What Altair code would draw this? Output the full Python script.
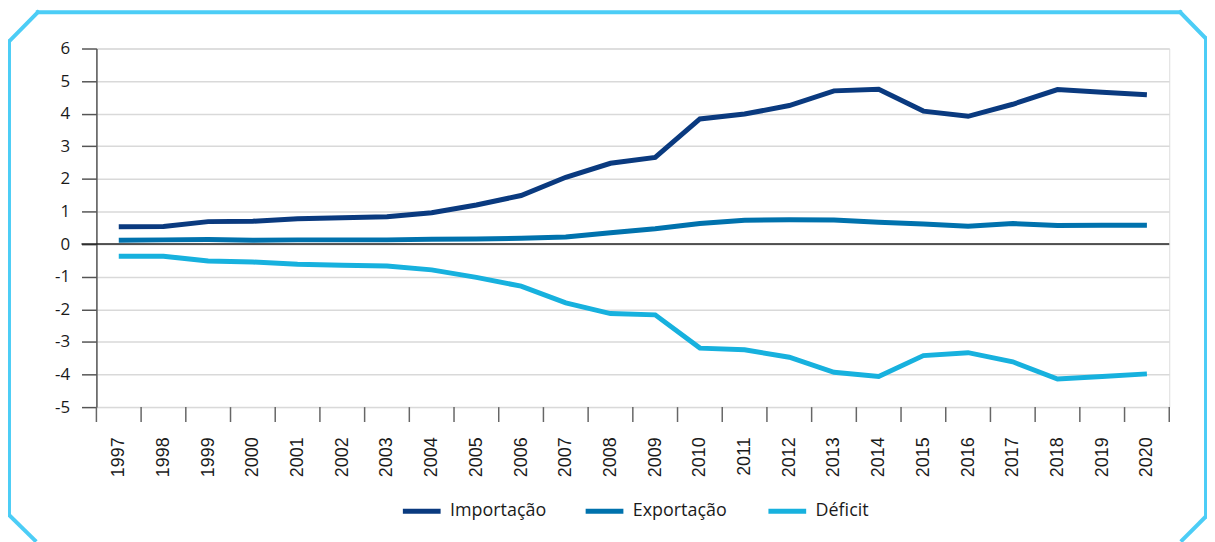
import altair as alt
import pandas as pd

years = list(range(1997, 2021))
importacao = [0.53, 0.54, 0.69, 0.70, 0.78, 0.81, 0.84, 0.96, 1.20, 1.49, 2.05, 2.48, 2.66,
              3.84, 3.99, 4.25, 4.70, 4.75, 4.08, 3.92, 4.29, 4.74, 4.66, 4.58]
exportacao = [0.12, 0.13, 0.14, 0.12, 0.13, 0.13, 0.13, 0.15, 0.16, 0.18, 0.22, 0.35, 0.47,
              0.63, 0.73, 0.75, 0.74, 0.67, 0.62, 0.55, 0.63, 0.57, 0.58, 0.58]
deficit = [-0.37, -0.37, -0.52, -0.55, -0.62, -0.65, -0.67, -0.79, -1.02, -1.29, -1.80, -2.13, -2.17,
           -3.19, -3.24, -3.47, -3.93, -4.06, -3.42, -3.33, -3.61, -4.14, -4.06, -3.98]
series_names = ["Importação", "Exportação", "Déficit"]
series_colors = ["#0a3a7f", "#0072ad", "#17b1de"]
y_ticks = list(range(-5, 7))

rows = []
for name, vals in zip(series_names, [importacao, exportacao, deficit]):
    for yr, v in zip(years, vals):
        rows.append({"ano": yr, "valor": v, "serie": name})
df = pd.DataFrame(rows)

tick_df = pd.DataFrame({"pos": [y - 0.5 for y in years] + [years[-1] + 0.5]})
zero_df = pd.DataFrame({"v": [0]})

W, H = 1080, 361
xscale = alt.Scale(domain=[years[0] - 0.5, years[-1] + 0.5], nice=False, zero=False)
yscale = alt.Scale(domain=[-5, 6], nice=False, zero=False)

x_axis = alt.Axis(values=years, format="d", labelAngle=-90, tickSize=0, grid=False,
                  domain=False, labelPadding=30, labelFont="Liberation Sans",
                  labelFontSize=18, labelColor="#1a1a1a", labelOverlap=False, title=None)
y_axis = alt.Axis(values=y_ticks, tickSize=15, tickColor="#555555", tickWidth=1.5,
                  domain=True, domainColor="#555555", domainWidth=1.5,
                  grid=True, gridColor="#d9d9d9", gridWidth=1.5,
                  labelPadding=12, labelFont="Open Sans", labelFontSize=17,
                  labelColor="#1a1a1a", labelOverlap=False,
                  labelExpr="replace(datum.label, '\u2212', '-')", title=None)

lines = alt.Chart(df).mark_line(strokeWidth=5, strokeJoin="miter").encode(
    x=alt.X("ano:Q", scale=xscale, axis=x_axis, title=None),
    y=alt.Y("valor:Q", scale=yscale, axis=y_axis, title=None),
    color=alt.Color("serie:N", scale=alt.Scale(domain=series_names, range=series_colors),
                    sort=series_names,
                    legend=alt.Legend(title=None, orient="none", legendX=306, legendY=444,
                                      direction="horizontal", symbolType="stroke",
                                      symbolStrokeWidth=5, symbolSize=1444,
                                      labelFont="Open Sans", labelFontSize=18,
                                      labelColor="#1a1a1a", labelOffset=7,
                                      gridAlign="all", columnPadding=29)),
    order=alt.Order("ano:Q"),
)

xticks = alt.Chart(tick_df).mark_rule(color="#666666", strokeWidth=1.5).encode(
    x=alt.X("pos:Q", scale=xscale, axis=x_axis, title=None),
    y=alt.value(H),
    y2=alt.value(H + 15),
)

zero = alt.Chart(zero_df).mark_rule(color="#222222", strokeWidth=1.5).encode(
    y=alt.Y("v:Q", scale=yscale, axis=y_axis, title=None),
    x=alt.value(-15),
    x2=alt.value(W),
)

frame_color = "#4ccdf6"
segs = [
    (-88, -7, -59, -36.5),
    (-59, -36.5, 1091, -36.5),
    (1091, -36.5, 1117, -10),
    (1117, -10, 1117, 471),
    (1117, 471, 1093, 495),
    (-88, -7, -88, 469.5),
    (-88, 469.5, -62, 495),
]
frame_layers = [
    alt.Chart(zero_df).mark_rule(color=frame_color, strokeWidth=4, strokeCap="square").encode(
        x=alt.value(a), y=alt.value(b), x2=alt.value(c), y2=alt.value(d))
    for a, b, c, d in segs
]

chart = alt.layer(lines, zero, xticks, *frame_layers).properties(
    width=W, height=H,
    autosize=alt.AutoSizeParams(type="none"),
    padding={"left": 89, "top": 39, "right": 38, "bottom": 134},
).configure_view(stroke="#d9d9d9", strokeWidth=1.5).configure(background="white")

chart.save("out.html", embed_options={"renderer": "svg", "actions": False})
